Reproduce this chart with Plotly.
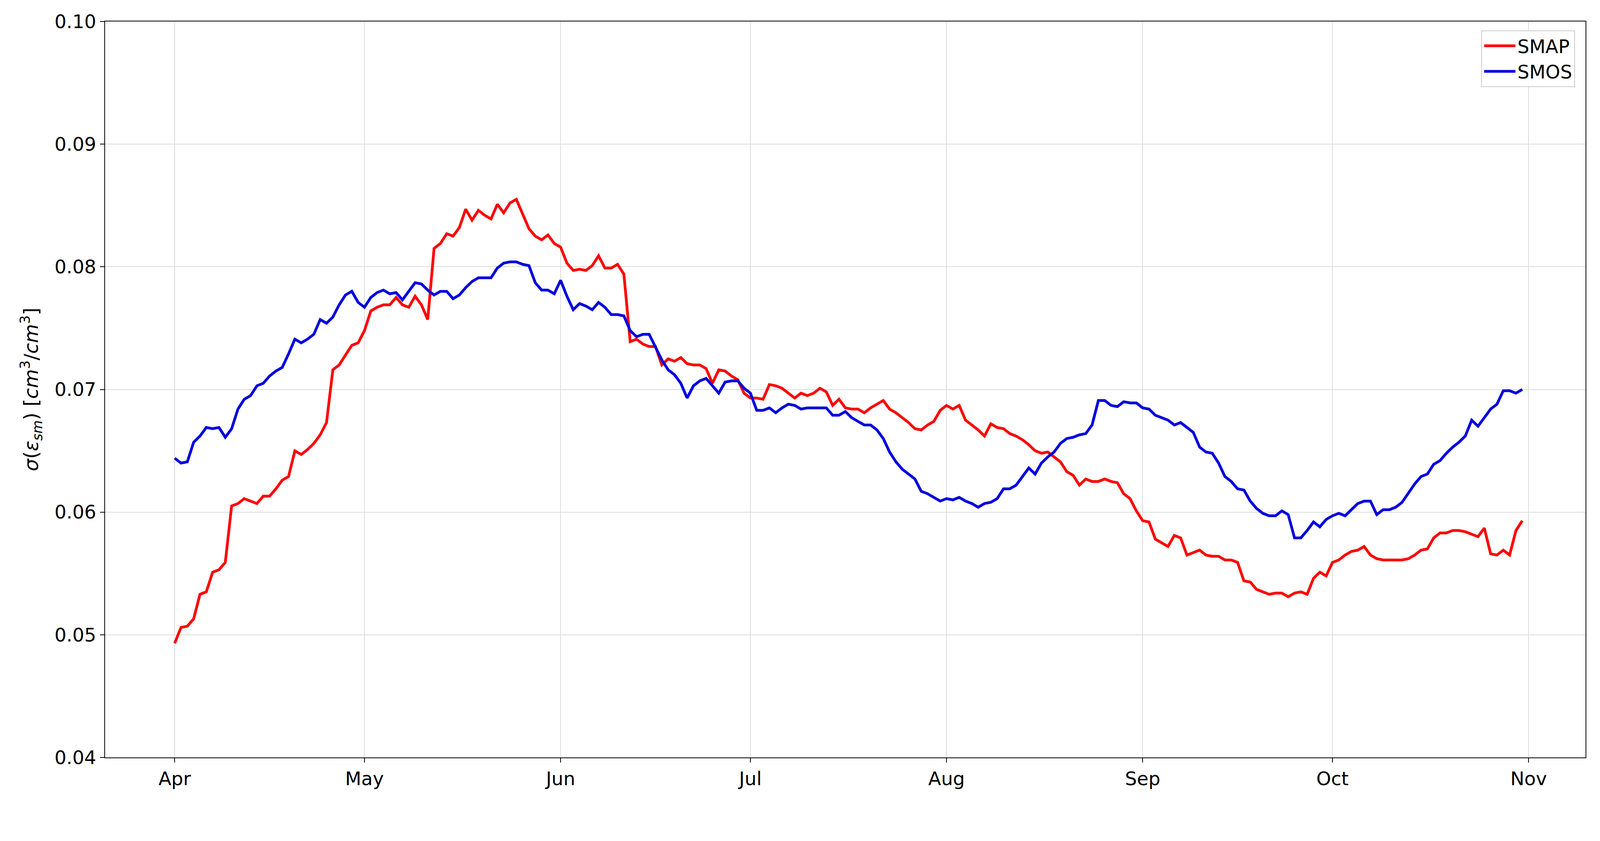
import plotly.graph_objects as go
import pandas as pd

dates = pd.date_range("2016-04-01", "2016-10-31", freq="D")

smap = [0.0493,0.0506,0.0507,0.0513,0.0533,0.0535,0.0551,0.0553,0.0559,0.0605,
0.0607,0.0611,0.0609,0.0607,0.0613,0.0613,0.0619,0.0626,0.0629,0.0650,
0.0647,0.0651,0.0656,0.0663,0.0673,0.0716,0.0720,0.0728,0.0736,0.0738,
0.0748,0.0764,0.0767,0.0769,0.0769,0.0775,0.0769,0.0767,0.0776,0.0769,
0.0757,0.0815,0.0819,0.0827,0.0825,0.0832,0.0847,0.0838,0.0846,0.0842,
0.0839,0.0851,0.0844,0.0852,0.0855,0.0843,0.0831,0.0825,0.0822,0.0826,
0.0819,0.0816,0.0803,0.0797,0.0798,0.0797,0.0801,0.0809,0.0799,0.0799,
0.0802,0.0794,0.0739,0.0741,0.0737,0.0735,0.0735,0.0720,0.0725,0.0723,
0.0726,0.0721,0.0720,0.0720,0.0717,0.0705,0.0716,0.0715,0.0711,0.0708,
0.0697,0.0693,0.0693,0.0692,0.0704,0.0703,0.0701,0.0697,0.0693,0.0697,
0.0695,0.0697,0.0701,0.0698,0.0687,0.0692,0.0685,0.0684,0.0684,0.0681,
0.0685,0.0688,0.0691,0.0684,0.0681,0.0677,0.0673,0.0668,0.0667,0.0671,
0.0674,0.0683,0.0687,0.0684,0.0687,0.0675,0.0671,0.0667,0.0662,0.0672,
0.0669,0.0668,0.0664,0.0662,0.0659,0.0655,0.0650,0.0648,0.0649,0.0645,
0.0641,0.0633,0.0630,0.0622,0.0627,0.0625,0.0625,0.0627,0.0625,0.0624,
0.0615,0.0611,0.0601,0.0593,0.0592,0.0578,0.0575,0.0572,0.0581,0.0579,
0.0565,0.0567,0.0569,0.0565,0.0564,0.0564,0.0561,0.0561,0.0559,0.0544,
0.0543,0.0537,0.0535,0.0533,0.0534,0.0534,0.0531,0.0534,0.0535,0.0533,
0.0546,0.0551,0.0548,0.0559,0.0561,0.0565,0.0568,0.0569,0.0572,0.0565,
0.0562,0.0561,0.0561,0.0561,0.0561,0.0562,0.0565,0.0569,0.0570,0.0579,
0.0583,0.0583,0.0585,0.0585,0.0584,0.0582,0.0580,0.0587,0.0566,0.0565,
0.0569,0.0565,0.0585,0.0593]

smos = [0.0644,0.0640,0.0641,0.0657,0.0662,0.0669,0.0668,0.0669,0.0661,0.0668,
0.0684,0.0692,0.0695,0.0703,0.0705,0.0711,0.0715,0.0718,0.0729,0.0741,
0.0738,0.0741,0.0745,0.0757,0.0754,0.0759,0.0769,0.0777,0.0780,0.0771,
0.0767,0.0775,0.0779,0.0781,0.0778,0.0779,0.0773,0.0780,0.0787,0.0786,
0.0781,0.0777,0.0780,0.0780,0.0774,0.0777,0.0783,0.0788,0.0791,0.0791,
0.0791,0.0799,0.0803,0.0804,0.0804,0.0802,0.0801,0.0787,0.0781,0.0781,
0.0778,0.0789,0.0776,0.0765,0.0770,0.0768,0.0765,0.0771,0.0767,0.0761,
0.0761,0.0760,0.0748,0.0743,0.0745,0.0745,0.0735,0.0724,0.0716,0.0712,
0.0705,0.0693,0.0703,0.0707,0.0709,0.0703,0.0697,0.0706,0.0707,0.0707,
0.0701,0.0697,0.0683,0.0683,0.0685,0.0681,0.0685,0.0688,0.0687,0.0684,
0.0685,0.0685,0.0685,0.0685,0.0679,0.0679,0.0682,0.0677,0.0674,0.0671,
0.0671,0.0667,0.0660,0.0649,0.0641,0.0635,0.0631,0.0627,0.0617,0.0615,
0.0612,0.0609,0.0611,0.0610,0.0612,0.0609,0.0607,0.0604,0.0607,0.0608,
0.0611,0.0619,0.0619,0.0622,0.0629,0.0636,0.0631,0.0640,0.0645,0.0649,
0.0656,0.0660,0.0661,0.0663,0.0664,0.0671,0.0691,0.0691,0.0687,0.0686,
0.0690,0.0689,0.0689,0.0685,0.0684,0.0679,0.0677,0.0675,0.0671,0.0673,
0.0669,0.0665,0.0653,0.0649,0.0648,0.0640,0.0629,0.0625,0.0619,0.0618,
0.0609,0.0603,0.0599,0.0597,0.0597,0.0601,0.0598,0.0579,0.0579,0.0585,
0.0592,0.0588,0.0594,0.0597,0.0599,0.0597,0.0602,0.0607,0.0609,0.0609,
0.0598,0.0602,0.0602,0.0604,0.0608,0.0616,0.0623,0.0629,0.0631,0.0639,
0.0642,0.0648,0.0653,0.0657,0.0662,0.0675,0.0670,0.0677,0.0684,0.0688,
0.0699,0.0699,0.0697,0.0700]

month_ticks = pd.date_range("2016-04-01", "2016-11-01", freq="MS")
month_labels = ["Apr", "May", "Jun", "Jul", "Aug", "Sep", "Oct", "Nov"]
y_ticks = [0.04, 0.05, 0.06, 0.07, 0.08, 0.09, 0.10]

fig = go.Figure()
fig.add_trace(go.Scatter(x=dates, y=smap, mode="lines", name="SMAP",
                         line=dict(color="#ff0000", width=7)))
fig.add_trace(go.Scatter(x=dates, y=smos, mode="lines", name="SMOS",
                         line=dict(color="#0000dd", width=7)))

axis_common = dict(showline=True, linecolor="black", linewidth=2, mirror=True,
                   showgrid=True, gridcolor="#dcdcdc", gridwidth=2,
                   ticks="outside", ticklen=11, tickwidth=2, tickcolor="black",
                   tickfont=dict(size=48, color="black"), zeroline=False)

fig.update_layout(
    width=4093, height=2026,
    margin=dict(l=261, r=42, t=47, b=86),
    paper_bgcolor="white", plot_bgcolor="white",
    font=dict(family="DejaVu Sans", color="black"),
    xaxis=dict(range=["2016-03-21", "2016-11-10"], tickvals=month_ticks,
               ticktext=month_labels, **axis_common),
    yaxis=dict(range=[0.04, 0.10], tickvals=y_ticks, tickformat=".2f",
               title=dict(text="<i>σ</i>(<i>ε</i><sub><i>sm</i></sub>) [<i>cm</i><sup>3</sup>/<i>cm</i><sup>3</sup>]",
                          font=dict(size=50), standoff=26),
               **axis_common),
    legend=dict(x=0.993, y=0.988, xanchor="right", yanchor="top",
                bgcolor="rgba(255,255,255,0.9)", bordercolor="#cccccc", borderwidth=2,
                font=dict(size=48), itemwidth=80),
    showlegend=True,
)

fig.write_html("out.html")
